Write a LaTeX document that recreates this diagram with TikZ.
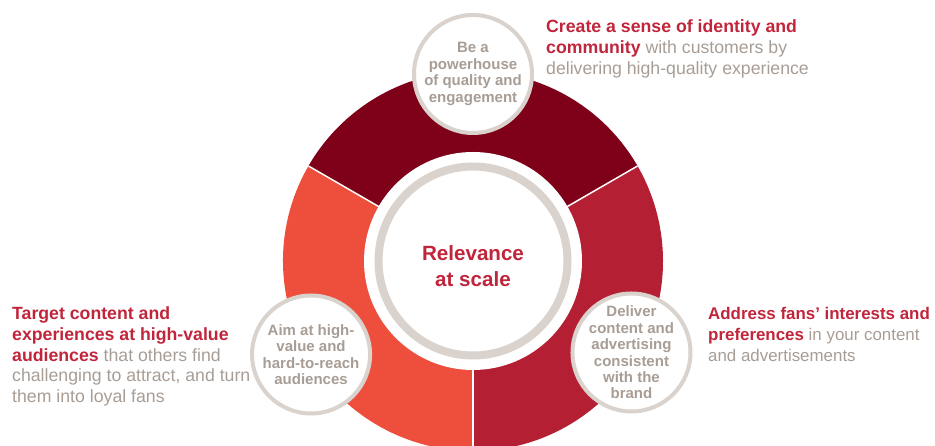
\documentclass[tikz,border=0pt]{standalone}
\usepackage{fontspec}
\setmainfont{Liberation Sans}
\usetikzlibrary{calc}
\definecolor{wine}{HTML}{7F0019}
\definecolor{crimson}{HTML}{B51F33}
\definecolor{coral}{HTML}{EE4E3C}
\definecolor{ringgrey}{HTML}{D9D2CD}
\definecolor{txtgrey}{HTML}{A89D95}
\definecolor{txtred}{HTML}{C1253B}
\newcommand{\hl}[1]{\textcolor{txtred}{\bfseries #1}}
\begin{document}
\begin{tikzpicture}[x=1pt,y=1pt,
    ringdot/.style={circle, draw=ringgrey, line width=4pt, fill=white, minimum size=118pt, inner sep=-6pt,
        align=center, text=txtgrey, font=\bfseries\fontsize{15}{16.4}\selectfont},
    note/.style={anchor=north west, inner sep=0pt, align=left, text=txtgrey, font=\fontsize{17.7}{20.8}\selectfont}]
    \useasboundingbox (0,0) rectangle (935,446);
    \coordinate (c) at (473,185);
    % three sectors of the ring
    \fill[wine] (c) -- ++(30:190) arc[start angle=30, end angle=150, radius=190] -- cycle;
    \fill[crimson] (c) -- ++(-90:190) arc[start angle=-90, end angle=30, radius=190] -- cycle;
    \fill[coral] (c) -- ++(150:190) arc[start angle=150, end angle=270, radius=190] -- cycle;
    \draw[white, line width=1.5pt] (c) -- ++(30:190); \draw[white, line width=1.5pt] (c) -- ++(150:190);
    \draw[white, line width=1.5pt] (c) -- ++(-90:190);
    % hub
    \fill[white] (c) circle (109);
    \draw[ringgrey, line width=8pt] (c) circle (94.5);
    \node[font=\bfseries\fontsize{20.6}{26}\selectfont, text=txtred, align=center] (core) at (473,179.5) {Relevance\\at scale};
    % circles on the ring
    \node[ringdot] (quality) at ($(c)+(90:187)$) {Be a\\powerhouse\\of quality and\\engagement};
    \node[ringdot] (brand) at ($(c)+(-30:183)$) {Deliver\\content and\\advertising\\consistent\\with the\\brand};
    \node[ringdot] (audience) at ($(c)+(210:187)$) {Aim at high-\\value and\\hard-to-reach\\audiences};
    % side notes
    \node[note] (identity) at (546,426.5) {\hl{Create a sense of identity and}\\ \hl{community} with customers by\\ delivering high-quality experience};
    \node[note, font=\fontsize{16.9}{20.8}\selectfont] (fans) at (708,139) {\hl{Address fans’ interests and}\\ \hl{preferences} in your content\\ and advertisements};
    \node[note] (target) at (12,139.5) {\hl{Target content and}\\ \hl{experiences at high-value}\\ \hl{audiences} that others find\\ challenging to attract, and turn\\ them into loyal fans};
\end{tikzpicture}
\end{document}
